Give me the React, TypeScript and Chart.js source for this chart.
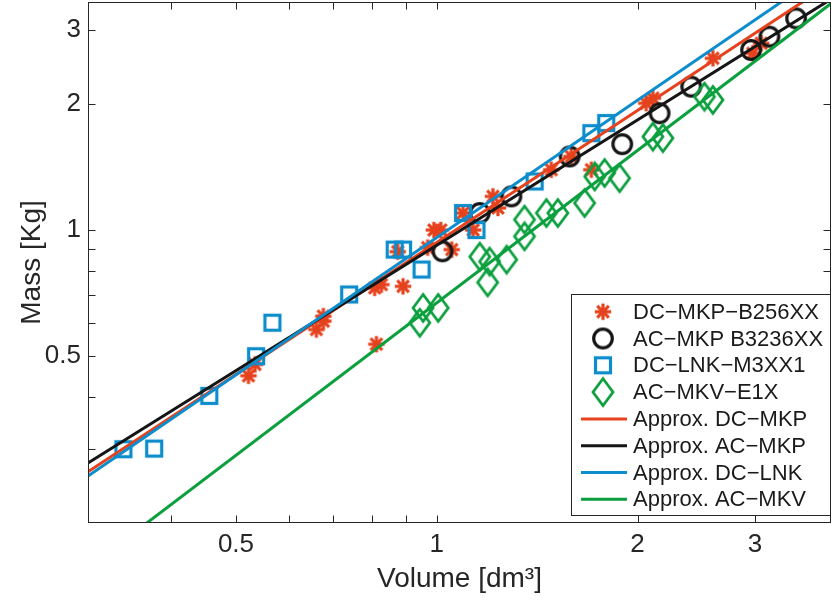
import { useEffect, useRef } from "react";
import { Chart, registerables } from "chart.js";

Chart.register(...registerables);

const FONT = '"Liberation Sans", Arial, Helvetica, sans-serif';
const INK = "#262626";
const RED = "#e5421d";
const BLACK = "#151515";
const BLUE = "#0e8dcc";
const GREEN = "#0b9f3e";

// DC-MKP-B256XX capacitors: volume [dm³] and mass [kg]
const dcMkpVolume = [0.522, 0.534, 0.66, 0.676, 0.676, 0.807, 0.826, 0.89, 0.812, 0.874, 0.969, 0.99, 1.014, 1.053, 1.095, 1.134, 1.214, 1.235, 1.485, 1.591, 1.705, 2.061, 2.109, 2.594, 2.977, 3.065];
const dcMkpMass = [0.449, 0.478, 0.579, 0.606, 0.623, 0.728, 0.741, 0.734, 0.534, 0.888, 0.908, 1.0, 1.0, 0.898, 1.098, 1.0, 1.203, 1.129, 1.393, 1.498, 1.393, 2.007, 2.063, 2.569, 2.641, 2.79];

// AC-MKP B3236XX
const acMkpVolume = [1.02, 1.16, 1.294, 1.582, 1.897, 2.158, 2.407, 2.96, 3.153, 3.457];
const acMkpMass = [0.89, 1.098, 1.203, 1.498, 1.603, 1.9, 2.198, 2.689, 2.893, 3.199];

// DC-LNK-M3XX1
const dcLnkVolume = [0.339, 0.377, 0.456, 0.536, 0.567, 0.739, 0.865, 0.89, 0.949, 1.095, 1.147, 1.402, 1.705, 1.795];
const dcLnkMass = [0.3, 0.301, 0.402, 0.5, 0.601, 0.702, 0.898, 0.898, 0.805, 1.098, 1.0, 1.306, 1.703, 1.8];

// AC-MKV-E1X
const acMkvVolume = [0.943, 0.954, 1.005, 1.16, 1.2, 1.192, 1.273, 1.354, 1.354, 1.46, 1.519, 1.666, 1.725, 1.785, 1.88, 2.109, 2.183, 2.52, 2.594];
const acMkvMass = [0.601, 0.652, 0.652, 0.864, 0.841, 0.75, 0.85, 1.059, 0.966, 1.098, 1.098, 1.16, 1.342, 1.368, 1.33, 1.671, 1.657, 2.081, 2.044];

// Power-law approximations (straight in log-log), given by their end points
const approxVolume = [0.3, 3.9];
const approxDcMkpMass = [0.265, 3.88];
const approxAcMkpMass = [0.278, 3.555];
const approxDcLnkMass = [0.259, 4.22];
const approxAcMkvMass = [0.1565, 3.47];

// Axes
const xMin = 0.3;
const xMax = 3.9;
const yMin = 0.2;
const yMax = 3.5;
const xTickValues = [0.4, 0.5, 0.6, 0.7, 0.8, 0.9, 1, 2, 3];
const xTickLabels = [0.5, 1, 2, 3];
const yTickValues = [0.3, 0.4, 0.5, 0.6, 0.7, 0.8, 0.9, 1, 2, 3];
const yTickLabels = [0.5, 1, 2, 3];

const seriesLabels = [
  "DC\u2212MKP\u2212B256XX",
  "AC\u2212MKP B3236XX",
  "DC\u2212LNK\u2212M3XX1",
  "AC\u2212MKV\u2212E1X",
  "Approx. DC\u2212MKP",
  "Approx. AC\u2212MKP",
  "Approx. DC\u2212LNK",
  "Approx. AC\u2212MKV",
];

const toPoints = (xs: number[], ys: number[]) => xs.map((x, i) => ({ x, y: ys[i] }));

type MarkerKind = "asterisk" | "circle" | "square" | "diamond";

function makeMarker(kind: MarkerKind, color: string): HTMLCanvasElement {
  const c = document.createElement("canvas");
  const ctx = c.getContext("2d") as CanvasRenderingContext2D;
  if (kind === "asterisk") {
    c.width = 22;
    c.height = 22;
    ctx.strokeStyle = color;
    ctx.lineWidth = 3.2;
    const r = 8.2;
    for (let k = 0; k < 4; k++) {
      const a = (k * Math.PI) / 4;
      ctx.beginPath();
      ctx.moveTo(11 - r * Math.cos(a), 11 - r * Math.sin(a));
      ctx.lineTo(11 + r * Math.cos(a), 11 + r * Math.sin(a));
      ctx.stroke();
    }
  } else if (kind === "circle") {
    c.width = 24;
    c.height = 24;
    ctx.strokeStyle = color;
    ctx.lineWidth = 3.2;
    ctx.beginPath();
    ctx.arc(12, 12, 9.3, 0, Math.PI * 2);
    ctx.stroke();
  } else if (kind === "square") {
    c.width = 22;
    c.height = 22;
    ctx.strokeStyle = color;
    ctx.lineWidth = 3.2;
    ctx.strokeRect(11 - 7.5, 11 - 7.5, 15, 15);
  } else {
    c.width = 26;
    c.height = 32;
    ctx.strokeStyle = color;
    ctx.lineWidth = 2.8;
    ctx.lineJoin = "miter";
    ctx.beginPath();
    ctx.moveTo(13, 16 - 13.5);
    ctx.lineTo(13 + 10, 16);
    ctx.lineTo(13, 16 + 13.5);
    ctx.lineTo(13 - 10, 16);
    ctx.closePath();
    ctx.stroke();
  }
  return c;
}

// Box, inward ticks on all four sides, and the legend
const framePlugin = {
  id: "matlabFrame",
  afterDatasetsDraw(chart: any) {
    const { ctx, chartArea: a, scales } = chart;
    const L = Math.round(a.left) + 0.5;
    const R = Math.round(a.right) - 0.5;
    const T = Math.round(a.top) + 0.5;
    const B = Math.round(a.bottom) - 0.5;
    const tick = 7;
    ctx.save();
    ctx.strokeStyle = INK;
    ctx.lineWidth = 1;
    ctx.beginPath();
    for (const v of xTickValues) {
      const px = Math.round(scales.x.getPixelForValue(v)) + 0.5;
      ctx.moveTo(px, B);
      ctx.lineTo(px, B - tick);
      ctx.moveTo(px, T);
      ctx.lineTo(px, T + tick);
    }
    for (const v of yTickValues) {
      const py = Math.round(scales.y.getPixelForValue(v)) + 0.5;
      ctx.moveTo(L, py);
      ctx.lineTo(L + tick, py);
      ctx.moveTo(R, py);
      ctx.lineTo(R - tick, py);
    }
    ctx.stroke();
    ctx.strokeRect(L, T, R - L, B - T);

    // legend
    const boxL = 571.5;
    const boxR = R;
    const boxT = 294.5;
    const boxB = 515.5;
    ctx.fillStyle = "#ffffff";
    ctx.fillRect(boxL, boxT, boxR - boxL, boxB - boxT);
    ctx.strokeStyle = INK;
    ctx.lineWidth = 1;
    ctx.strokeRect(boxL, boxT, boxR - boxL, boxB - boxT);
    const rowTop = 311.7;
    const rowStep = 26.8;
    ctx.font = `22px ${FONT}`;
    ctx.textAlign = "left";
    ctx.textBaseline = "middle";
    chart.data.datasets.forEach((ds: any, i: number) => {
      const cy = rowTop + i * rowStep;
      if (ds.showLine) {
        ctx.strokeStyle = ds.borderColor;
        ctx.lineWidth = 3;
        ctx.beginPath();
        ctx.moveTo(581, cy);
        ctx.lineTo(627, cy);
        ctx.stroke();
      } else {
        const img = ds.pointStyle as HTMLCanvasElement;
        ctx.drawImage(img, 603 - img.width / 2, cy - img.height / 2);
      }
      ctx.fillStyle = "#1a1a1a";
      ctx.fillText(ds.label, 633, cy + 1);
    });
    ctx.restore();
  },
};

const noEdgePadding = (scale: any) => {
  scale.paddingTop = 0;
  scale.paddingBottom = 0;
  scale.paddingLeft = 0;
  scale.paddingRight = 0;
};

export default function App() {
  const ref = useRef<HTMLCanvasElement>(null);

  useEffect(() => {
    const canvas = ref.current;
    if (!canvas) return;

    const star = makeMarker("asterisk", RED);
    const ring = makeMarker("circle", BLACK);
    const box = makeMarker("square", BLUE);
    const rhombus = makeMarker("diamond", GREEN);

    const markerSet = (label: string, data: any[], style: HTMLCanvasElement, order: number) => ({
      label,
      data,
      pointStyle: style,
      pointRadius: 9,
      showLine: false,
      order,
    });
    const fitLine = (label: string, data: any[], color: string, order: number) => ({
      label,
      data,
      showLine: true,
      borderColor: color,
      backgroundColor: color,
      borderWidth: 3,
      pointRadius: 0,
      order,
    });

    const chart = new Chart(canvas, {
      type: "scatter",
      data: {
        datasets: [
          markerSet(seriesLabels[0], toPoints(dcMkpVolume, dcMkpMass), star, 8),
          markerSet(seriesLabels[1], toPoints(acMkpVolume, acMkpMass), ring, 7),
          markerSet(seriesLabels[2], toPoints(dcLnkVolume, dcLnkMass), box, 6),
          markerSet(seriesLabels[3], toPoints(acMkvVolume, acMkvMass), rhombus, 5),
          fitLine(seriesLabels[4], toPoints(approxVolume, approxDcMkpMass), RED, 4),
          fitLine(seriesLabels[5], toPoints(approxVolume, approxAcMkpMass), BLACK, 3),
          fitLine(seriesLabels[6], toPoints(approxVolume, approxDcLnkMass), BLUE, 2),
          fitLine(seriesLabels[7], toPoints(approxVolume, approxAcMkvMass), GREEN, 1),
        ] as any,
      },
      options: {
        responsive: false,
        animation: false,
        devicePixelRatio: 1,
        layout: { autoPadding: false, padding: { top: 2, right: 1, bottom: 0, left: 0 } },
        plugins: {
          legend: { display: false },
          tooltip: { enabled: false },
        },
        scales: {
          x: {
            type: "logarithmic",
            min: xMin,
            max: xMax,
            grid: { display: false, drawTicks: false, tickLength: 0 },
            border: { display: false },
            afterBuildTicks: (scale: any) => {
              scale.ticks = xTickValues.map((value) => ({ value }));
            },
            afterFit: (scale: any) => {
              scale.height = 77;
              noEdgePadding(scale);
            },
            ticks: {
              autoSkip: false,
              maxRotation: 0,
              padding: 6,
              color: INK,
              font: { family: FONT, size: 26 },
              callback: (value: any) => (xTickLabels.includes(Number(value)) ? String(value) : ""),
            },
            title: {
              display: true,
              text: "Volume [dm\u00b3]",
              color: INK,
              font: { family: FONT, size: 28 },
              padding: { top: 0, bottom: 4 },
            },
          },
          y: {
            type: "logarithmic",
            min: yMin,
            max: yMax,
            grid: { display: false, drawTicks: false, tickLength: 0 },
            border: { display: false },
            afterBuildTicks: (scale: any) => {
              scale.ticks = yTickValues.map((value) => ({ value }));
            },
            afterFit: (scale: any) => {
              scale.width = 88;
              noEdgePadding(scale);
            },
            ticks: {
              autoSkip: false,
              padding: 7,
              color: INK,
              font: { family: FONT, size: 26 },
              callback: (value: any) => (yTickLabels.includes(Number(value)) ? String(value) : ""),
            },
            title: {
              display: true,
              text: "Mass [Kg]",
              color: INK,
              font: { family: FONT, size: 28 },
              padding: { top: 15, bottom: 0 },
            },
          },
        },
      },
      plugins: [framePlugin],
    });

    return () => chart.destroy();
  }, []);

  return (
    <div style={{ position: "absolute", left: 0, top: 0, width: 832, height: 600, background: "#ffffff" }}>
      <canvas ref={ref} width={832} height={600} style={{ display: "block" }} />
    </div>
  );
}
